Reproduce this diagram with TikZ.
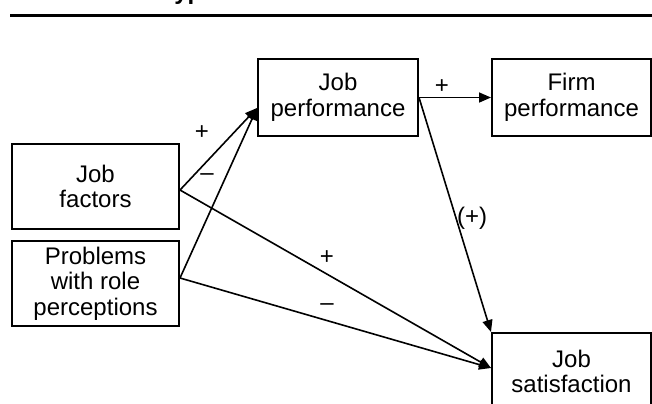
\documentclass[tikz,border=0pt]{standalone}
\usepackage{fontspec}
\setmainfont{Liberation Sans}
\usetikzlibrary{arrows.meta}
\begin{document}
\begin{tikzpicture}[x=0.5pt,y=-0.5pt,>={Triangle[length=6pt,width=5pt]}]
    \useasboundingbox (0,0) rectangle (652,403);
    \clip (0,0) rectangle (652,403);
    \tikzstyle{every node}=[font=\fontsize{12}{12.8}\selectfont];
    \tikzstyle{box}=[draw,line width=1pt,align=center,inner sep=0pt,minimum height=38.5pt];
    \tikzstyle{sign}=[inner sep=0pt];
    \tikzstyle{link}=[->,line width=0.8pt];
    \node at (150,-1) (title) [anchor=base west,font=\bfseries\fontsize{12}{14}\selectfont] {Hypotheses};
    \draw[line width=1.5pt] (10,15.5) -- (652,15.5);

    \node at (95.5,186.5) (jf)  [box,minimum width=83.5pt,minimum height=42.5pt] {Job\\factors};
    \node at (95.5,283.5) (prp) [box,minimum width=83.5pt,minimum height=42.5pt] {Problems\\with role\\perceptions};
    \node at (338,97.5)   (jp)  [box,minimum width=80pt] {Job\\performance};
    \node at (571.5,97.5) (fp)  [box,minimum width=79.5pt] {Firm\\performance};
    \node at (571.5,371.5) (js) [box,minimum width=79.5pt] {Job\\satisfaction};

    \draw[link] ([yshift=-1.75pt]jf.east) to ([yshift=-5.25pt]jp.west);
    \draw[link] ([yshift=2.75pt]prp.east) to ([yshift=-5.25pt]jp.west);
    \draw[link] ([yshift=-1.75pt]jf.east) to ([yshift=1.75pt]js.west);
    \draw[link] ([yshift=2.75pt]prp.east) to ([yshift=1.75pt]js.west);
    \draw[link] (jp.east) to (fp.west);
    \draw[link] (jp.east) to (js.north west);

    \node at (202,133) (s1) [sign] {+};
    \node at (207,177) (s2) [sign] {–};
    \node at (327,258) (s3) [sign] {+};
    \node at (327,307) (s4) [sign] {–};
    \node at (442,87)  (s5) [sign] {+};
    \node at (472,218) (s6) [sign] {(+)};
\end{tikzpicture}
\end{document}
